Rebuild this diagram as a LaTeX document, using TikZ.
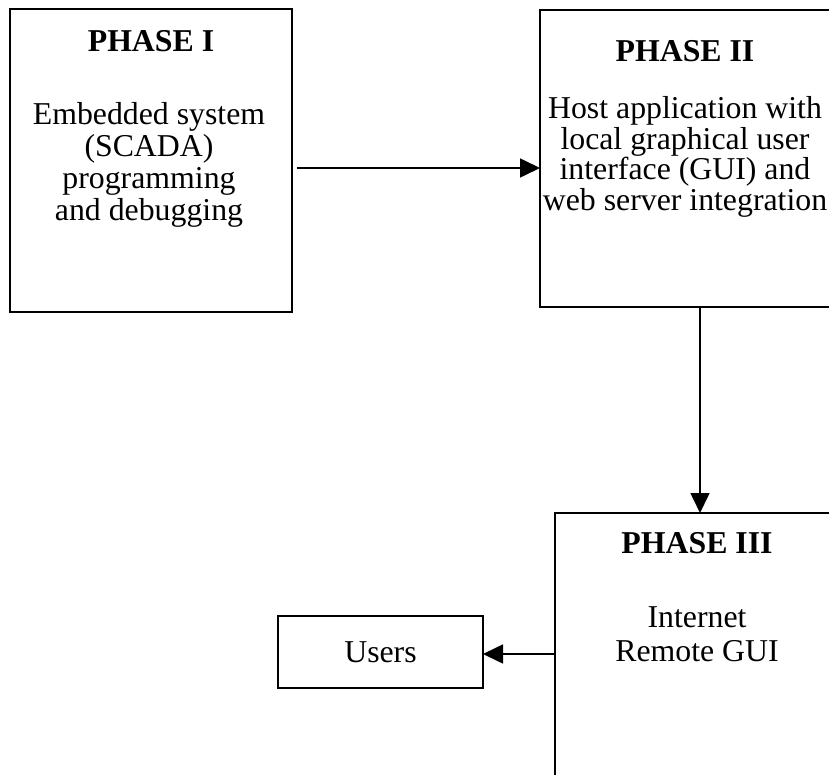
\documentclass[tikz,border=0pt]{standalone}
\usepackage{fontspec}
\setmainfont{Liberation Serif}
\usetikzlibrary{arrows.meta}
\begin{document}
\begin{tikzpicture}[x=1pt,y=-1pt,
  box/.style={draw,line width=1.6pt,inner sep=0pt,outer sep=0pt},
  titletext/.style={font=\fontsize{31.8}{30}\selectfont\bfseries,inner sep=0pt},
  bodytext/.style={font=\fontsize{31.8}{30.5}\selectfont,align=center,inner sep=0pt},
  arr/.style={line width=1.6pt,-{Triangle[length=20pt,width=19pt]}}]
\useasboundingbox (0,0) rectangle (829,775);
\clip (0,0) rectangle (829,775);
% boxes
\node[box,minimum width=282pt,minimum height=303pt] (p1) at (151,160.5) {};
\node[box,minimum width=291pt,minimum height=297pt] (p2) at (685.5,158.5) {};
\node[box,minimum width=290pt,minimum height=280pt] (p3) at (700,653) {};
\node[box,minimum width=205pt,minimum height=72pt,font=\fontsize{31.8}{30}\selectfont] (users) at (380.5,652) {Users};
% texts
\node[titletext] (t1) at (151,41) {PHASE I};
\node[bodytext,font=\fontsize{31.8}{32}\selectfont] (b1) at (149,165) {Embedded system\\(SCADA)\\programming\\and debugging};
\node[titletext] (t2) at (685,51) {PHASE II};
\node[bodytext] (b2) at (685,157) {Host application with\\local graphical user\\interface (GUI) and\\web server integration};
\node[titletext] (t3) at (697,543) {PHASE III};
\node[bodytext,font=\fontsize{31.8}{34}\selectfont] (b3) at (697,634) {Internet\\Remote GUI};
% connectors
\coordinate (a1) at (297,168);
\draw[arr] (a1) -- (a1 -| p2.west);
\coordinate (v) at (700,0);
\draw[arr] (v |- p2.south) -- (v |- p3.north);
\coordinate (h) at (0,654);
\draw[arr] (h -| p3.west) -- (h -| users.east);
\end{tikzpicture}
\end{document}
